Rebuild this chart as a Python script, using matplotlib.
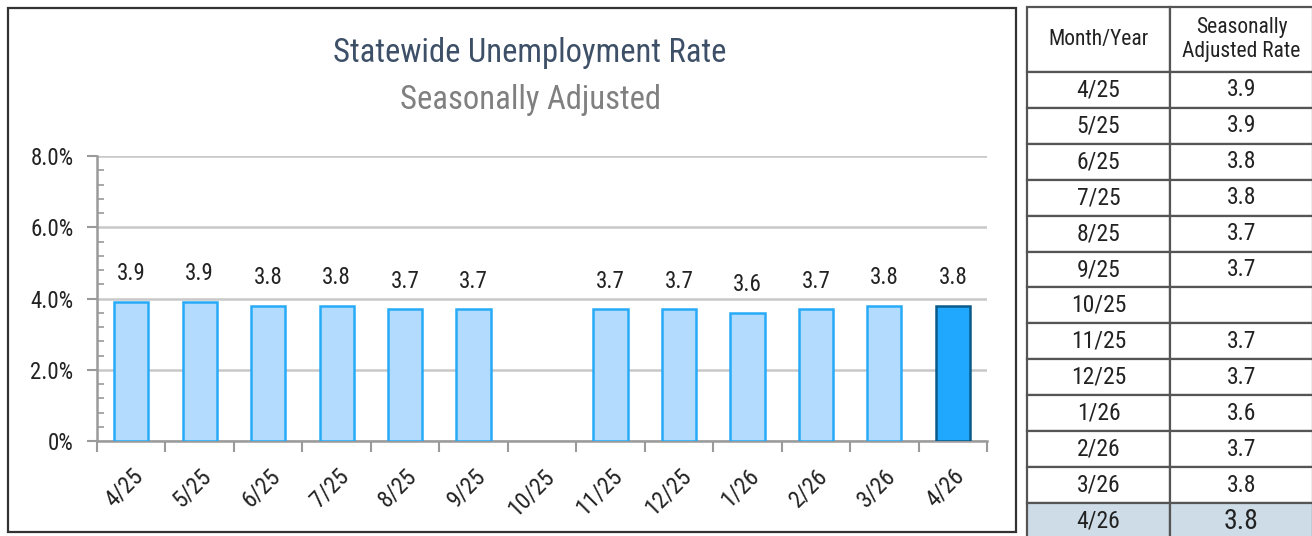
import numpy as np
from matplotlib import pyplot, font_manager
from matplotlib.patches import Rectangle
from matplotlib.ticker import MultipleLocator, FuncFormatter

months = ['4/25', '5/25', '6/25', '7/25', '8/25', '9/25', '10/25',
          '11/25', '12/25', '1/26', '2/26', '3/26', '4/26']
rates = [3.9, 3.9, 3.8, 3.8, 3.7, 3.7, None,
         3.7, 3.7, 3.6, 3.7, 3.8, 3.8]
y_ticks = [0, 2, 4, 6, 8]

title = 'Statewide Unemployment Rate'
subtitle = 'Seasonally Adjusted'
table_header = ['Month/Year', 'Seasonally\nAdjusted Rate']

fill_light = '#b3dbfd'
edge_light = '#27aaf7'
fill_dark = '#1fa8fd'
edge_dark = '#0a5a8a'
axis_grey = '#9a9a9a'
grid_grey = '#c8c8c8'
text_col = '#222222'

W, H = 1312, 536

# pick a condensed face if one is installed
installed = {f.name for f in font_manager.fontManager.ttflist}
wanted = ['Roboto Condensed', 'Liberation Sans Narrow', 'Archivo Narrow',
          'PT Sans Narrow', 'Barlow Condensed', 'Fira Sans Condensed',
          'IBM Plex Sans Condensed', 'Open Sans Condensed', 'Roboto']
family = next(f for f in wanted if f in installed or f == 'Roboto')
pyplot.rcParams['font.family'] = [family, 'DejaVu Sans']


def fx(px):
    return px / W


def fy(py):
    return 1 - py / H


fig = pyplot.figure(figsize=(W / 100, H / 100), dpi=100)

# chart frame
fig.add_artist(Rectangle((fx(8), fy(532)), fx(1016) - fx(8), fy(8) - fy(532),
                         transform=fig.transFigure, fill=False,
                         edgecolor='#333333', linewidth=1.6))

fig.text(fx(530), fy(53), title, ha='center', va='center',
         fontsize=23.5, color='#3d5068')
fig.text(fx(530), fy(100), subtitle, ha='center', va='center',
         fontsize=23.5, color='#808080')

# Bar chart
ax = fig.add_axes([fx(97), fy(441), fx(987) - fx(97), fy(156) - fy(441)])
x = np.arange(len(months))
for i, v in enumerate(rates):
    if v is None:
        continue
    last = i == len(months) - 1
    ax.bar(i, v, width=0.5,
           facecolor=fill_dark if last else fill_light,
           edgecolor=edge_dark if last else edge_light,
           linewidth=1.8, zorder=3)
    ax.annotate(f'{v:.1f}', (i, v), xytext=(0, 12), textcoords='offset points',
                ha='center', va='bottom', fontsize=16.5, color=text_col)

ax.set_xlim(-0.5, len(months) - 0.5)
ax.set_ylim(0, 8)
ax.set_yticks(y_ticks)
ax.yaxis.set_major_formatter(FuncFormatter(lambda v, p: '0%' if v == 0 else f'{v:.1f}%'))
ax.yaxis.set_minor_locator(MultipleLocator(0.4))
ax.tick_params(axis='y', which='major', direction='out', length=7, width=1.5,
               color=axis_grey, labelsize=16.5, labelcolor=text_col, pad=10)
ax.tick_params(axis='y', which='minor', direction='in', length=5, width=1.2,
               color=axis_grey)
ax.grid(axis='y', color=grid_grey, linewidth=1.8, zorder=0)

ax.set_xticks(np.arange(len(months) + 1) - 0.5)
ax.set_xticklabels([])
ax.set_xticks(x, minor=True)
ax.set_xticklabels(months, minor=True, rotation=45, ha='right', va='top',
                   rotation_mode='anchor')
ax.tick_params(axis='x', which='major', direction='out', length=8, width=1.5,
               color=axis_grey)
ax.tick_params(axis='x', which='minor', length=0, labelsize=17,
               labelcolor=text_col, pad=17)

for s in ['top', 'right']:
    ax.spines[s].set_visible(False)
for s in ['left', 'bottom']:
    ax.spines[s].set_color(axis_grey)
    ax.spines[s].set_linewidth(1.8)

# Table
tax = fig.add_axes([fx(1027), fy(539), fx(1313) - fx(1027), fy(7) - fy(539)])
tax.axis('off')
cell_text = [[m, '' if v is None else f'{v:.1f}'] for m, v in zip(months, rates)]
table = tax.table(cellText=cell_text, colLabels=table_header,
                  cellLoc='center', bbox=[0, 0, 1, 1])
table.auto_set_font_size(False)
n_rows = len(months)
for (r, c), cell in table.get_celld().items():
    cell.set_edgecolor('#555555')
    cell.set_linewidth(1.6)
    cell.set_height(65 if r == 0 else 36)
    cell.get_text().set_color(text_col)
    cell.get_text().set_fontsize(15.5 if r == 0 else 17)
    if r == n_rows:
        cell.set_facecolor('#cddce6')
        if c == 1:
            cell.get_text().set_fontsize(20)

fig.savefig('out.png', dpi=100)
